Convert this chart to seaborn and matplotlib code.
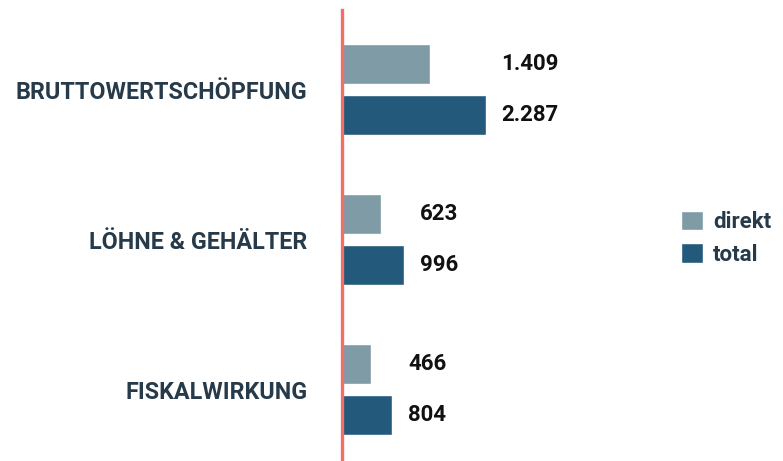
import pandas as pd
import seaborn as sns
import matplotlib.pyplot as plt

# Werte aus der Grafik
kategorien = ["BRUTTOWERTSCHÖPFUNG", "LÖHNE & GEHÄLTER", "FISKALWIRKUNG"]
direkt = [1409, 623, 466]
total = [2287, 996, 804]
serien = ["direkt", "total"]

farben = ["#7f9ba6", "#235a7c"]
text_farbe = "#263a4a"

df = pd.DataFrame({
    "kategorie": kategorien * 2,
    "wert": direkt + total,
    "art": [serien[0]] * 3 + [serien[1]] * 3,
})

sns.set_style("white")
plt.rcParams["font.family"] = ["Roboto", "DejaVu Sans"]

fig = plt.figure(figsize=(7.83, 4.61), dpi=100)
ax = fig.add_axes([341.5 / 783, 0, (660 - 341.5) / 783, 451 / 461])

sns.barplot(data=df, y="kategorie", x="wert", hue="art", orient="h",
            palette=farben, width=0.68, gap=0.215, saturation=1,
            ax=ax, order=kategorien, hue_order=serien)

ax.set_xlim(0, 318.5 / 0.063)
ax.set_ylim(-0.53 + 451 / 150, -0.53)
ax.set_xlabel("")
ax.set_ylabel("")
ax.set_xticks([])
for s in ["top", "right", "bottom"]:
    ax.spines[s].set_visible(False)
ax.spines["left"].set_color("#f07068")
ax.spines["left"].set_linewidth(2.4)
ax.tick_params(axis="y", length=0, pad=24.5)
for lab in ax.get_yticklabels():
    lab.set_fontsize(16.8)
    lab.set_fontweight("bold")
    lab.set_color(text_farbe)

# Wertelabels rechts neben der jeweils längsten Säule der Gruppe
gruppen_max = [max(d, t) for d, t in zip(direkt, total)]
for cont, werte in zip(ax.containers, [direkt, total]):
    for bar, w, gm in zip(cont, werte, gruppen_max):
        y = bar.get_y() + bar.get_height() / 2
        ax.annotate(f"{w:,}".replace(",", "."), xy=(gm, y), xytext=(11.5, 0),
                    textcoords="offset points", va="center", ha="left",
                    fontsize=16, fontweight="bold", color="#111111")

handles, labels = ax.get_legend_handles_labels()
ax.get_legend().remove()
leg = fig.legend(handles, labels, loc="upper left", bbox_to_anchor=(665 / 783, 1 - 195 / 461),
                 frameon=False, fontsize=16, handlelength=1.0, handleheight=1.0,
                 handletextpad=0.45, labelspacing=0.45, borderpad=0.2)
for t in leg.get_texts():
    t.set_fontweight("bold")
    t.set_color(text_farbe)

fig.savefig("out.png", dpi=100)
